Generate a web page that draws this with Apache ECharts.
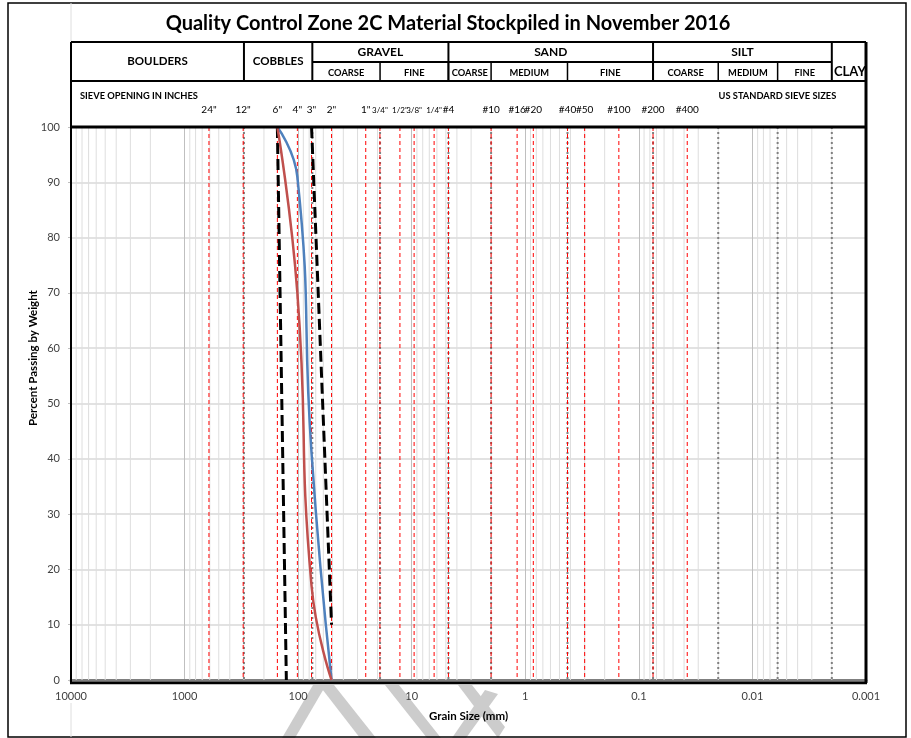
<!DOCTYPE html>
<html><head><meta charset="utf-8">
<script src="https://cdn.jsdelivr.net/npm/echarts@6/dist/echarts.min.js"></script>
<style>html,body{margin:0;padding:0;background:#fff}#c{width:911px;height:738px}</style>
</head><body><div id="c"></div>
<script>
// ---------- data ----------
const titleText = 'Quality Control Zone 2C Material Stockpiled in November 2016';
const xTickLabels = ['10000','1000','100','10','1','0.1','0.01','0.001'];
const yTickValues = [0,10,20,30,40,50,60,70,80,90,100];
const sieveLabels = ['24"','12"','6"','4"','3"','2"','1"','3/4"','1/2"','3/8"','1/4"','#4','#10','#16','#20','#40','#50','#100','#200','#400'];
const sieveSizes  = [609.6,304.8,152.4,101.6,76.2,50.8,25.4,19.05,12.7,9.525,6.35,4.75,2.0,1.18,0.85,0.425,0.3,0.15,0.075,0.0375];
const boundarySizes = [300,75,19,4.75,2,0.425,0.075,0.02,0.006,0.002];
const classNames  = ['BOULDERS','COBBLES','GRAVEL','SAND','SILT','CLAY'];
const classBounds = [10000,300,75,4.75,0.075,0.002,0.001];
const subNames  = ['COARSE','FINE','COARSE','MEDIUM','FINE','COARSE','MEDIUM','FINE'];
const subBounds = [[75,19],[19,4.75],[4.75,2],[2,0.425],[0.425,0.075],[0.075,0.02],[0.02,0.006],[0.006,0.002]];

const sampleSizes = [152.4,101.6,76.2,50.8];
const sampleBluePass = [100,91,41,0];
const sampleRedPass  = [100,70,17,0];
const specLowerSizes = [152.4,127];
const specLowerPass  = [100,0];
const specUpperSizes = [76.2,50.8];
const specUpperPass  = [100,10];

// ---------- chart ----------
const FONT = 'Lato';
const chart = echarts.init(document.getElementById('c'), null, {renderer:'canvas'});
const pair = (xs, ys) => xs.map((x,i)=>[x, ys[i]]);

const minorVals = [];
for (let k=-3;k<=3;k++) for (let m=2;m<=9;m++) minorVals.push(+(m*Math.pow(10,k)).toPrecision(3));

const option = {
  animation:false,
  backgroundColor:'#fff',
  grid:{left:71, right:45, top:127, bottom:58, show:true, backgroundColor:'#fff', borderWidth:0},
  xAxis:{type:'log', logBase:10, min:0.001, max:10000, inverse:true, splitNumber:7,
    axisLine:{show:true, onZero:false, lineStyle:{color:'#7f7f7f', width:3}},
    axisTick:{show:false},
    axisLabel:{fontFamily:FONT, fontSize:11, color:'#404040', margin:11,
      formatter:v=>String(Number((+v).toPrecision(3)))},
    splitLine:{show:true, lineStyle:{color:'#bfbfbf', width:1}}},
  yAxis:{type:'value', min:0, max:100, interval:10,
    axisLine:{show:false}, axisTick:{show:true, length:3, lineStyle:{color:'#bfbfbf'}},
    axisLabel:{fontFamily:FONT, fontSize:11, color:'#404040', margin:11},
    splitLine:{show:true, lineStyle:{color:'#d9d9d9', width:1.5}}},
  series:[
    {name:'Spec lower', type:'line', data:pair(specLowerSizes, specLowerPass), z:10, symbol:'none',
      lineStyle:{color:'#000', width:3, type:[11,5]}},
    {name:'Spec upper', type:'line', data:pair(specUpperSizes, specUpperPass), z:10, symbol:'none',
      lineStyle:{color:'#000', width:3, type:[11,5]}},
    {name:'Sample A', type:'line', data:pair(sampleSizes, sampleBluePass), z:11, symbol:'none', smooth:0.5,
      lineStyle:{color:'#4f81bd', width:2.5}},
    {name:'Sample B', type:'line', data:pair(sampleSizes, sampleRedPass), z:11, symbol:'none', smooth:0.5,
      lineStyle:{color:'#c0504d', width:2.5}}
  ]
};
chart.setOption(option);

// ---------- positions from the axis scale ----------
const px = v => chart.convertToPixel({xAxisIndex:0}, v);
const py = v => chart.convertToPixel({yAxisIndex:0}, v);
const L = px(10000), R = px(0.001), T = py(100), B = py(0);
const hTop = 42, hMid = 62, hBot = 81;
const g = [];
const line = (x1,y1,x2,y2,w,c,dash,z) => g.push({type:'line', silent:true, z:(z==null?50:z),
  shape:{x1,y1,x2,y2}, style:{stroke:c||'#000', lineWidth:w||2, lineDash:dash||null}});
const text = (x,y,t,size,weight,align,col,rot) => g.push({type:'text', silent:true, z:51,
  x:x, y:y, rotation:rot||0,
  style:{x:0, y:0, text:t, font:(weight||'bold')+' '+size+'px '+FONT, fill:col||'#000',
    textAlign:align||'center', textVerticalAlign:'middle'}});

// vertical reference lines in the plot
minorVals.forEach(v=>{ const x=px(v); line(x,T,x,B,1,'#dedede',null,1); });
boundarySizes.forEach(v=>{ const x=px(v); line(x,T,x,B,2,'#808080',[2,3],2); });
sieveSizes.forEach(v=>{ const x=px(v); line(x,T,x,B,1,'#ff0000',[4,3],3); });

// watermark (outside plot, bottom)
const wm = [[[313,685],[326,685],[295,738],[282,738]],[[319,685],[334,685],[376,738],[360,738]],
            [[385,685],[399,685],[441,738],[427,738]],[[452,738],[466,738],[498,694],[485,690]],
            [[458,685],[472,685],[505,727],[498,738]]];
wm.forEach(p=>g.push({type:'polygon', silent:true, z:-10, shape:{points:p}, style:{fill:'#cccccc'}}));

// outer frame
g.push({type:'rect', silent:true, z:49, shape:{x:8,y:3,width:898,height:734}, style:{fill:null, stroke:'#000', lineWidth:1.5}});
line(L,3,L,hTop,1,'#dedede'); line(L,703,L,737,1,'#dedede');

// title and axis names
text(448, 24, titleText, 20, 'bold');
text(33, 358, 'Percent Passing by Weight', 11.5, 'bold', 'center', '#000', Math.PI/2);
text((L+R)/2, 716, 'Grain Size (mm)', 11.5, 'bold');

// header box
g.push({type:'rect', silent:true, z:48, shape:{x:L,y:hTop,width:R-L,height:T-hTop}, style:{fill:'#fff', stroke:null}});
line(L,hTop,R,hTop,2); line(L,hBot,R,hBot,2);
line(L,hTop,L,T,2); line(R,hTop,R,T,3);
for (let i=1;i<classBounds.length-1;i++){ const x=px(classBounds[i]); line(x,hTop,x,hBot,2); }
line(px(75),hMid,px(0.002),hMid,2);
subBounds.forEach((b,i)=>{ if(i>0){ const x=px(b[0]); line(x,hMid,x,hBot,1.5);} });
classNames.forEach((n,i)=>{
  const xc=(px(classBounds[i])+px(classBounds[i+1]))/2;
  if (n==='BOULDERS'||n==='COBBLES') text(xc,61.5,n,11.5,'bold');
  else if (n==='CLAY') text(xc+1,71.5,n,13,'bold');
  else text(xc,52,n,12,'bold');
});
subNames.forEach((n,i)=>{
  const xc=(px(subBounds[i][0])+px(subBounds[i][1]))/2;
  text(xc,72.5,n,9.3,'bold');
});
text(L+9,96,'SIEVE OPENING IN INCHES',9.3,'bold','left');
text(px(0.002)+4.5,96,'US STANDARD SIEVE SIZES',9.3,'bold','right');
sieveLabels.forEach((s,i)=>{
  const small = s.indexOf('/')>=0;
  text(px(sieveSizes[i]), 110, s, small?8:10, 'normal', 'center', '#000');
});

// plot border
line(L,T,R,T,3); line(R,T,R,B+3,3); line(L,T,L,B+3,2); line(L-1,B+3,R+1,B+3,2.5);

chart.setOption({graphic:{elements:g}});
</script></body></html>
